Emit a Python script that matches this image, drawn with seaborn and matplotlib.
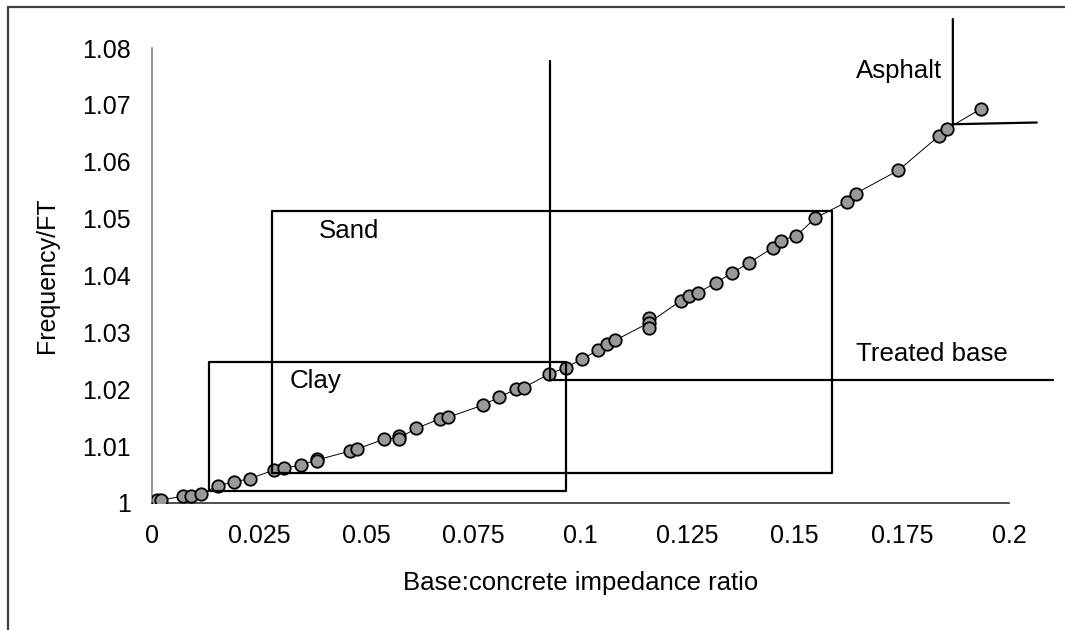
import numpy as np
import pandas as pd
import seaborn as sns
import matplotlib.pyplot as plt
from matplotlib.lines import Line2D
from matplotlib.ticker import FixedLocator, FixedFormatter

sns.set_theme(style="white")
plt.rcParams["font.family"] = ["Liberation Sans", "DejaVu Sans"]

# Measured base:concrete impedance ratio and normalised frequency
ratio = [0.0012, 0.0020, 0.0072, 0.0091, 0.0115, 0.0153, 0.0191, 0.0229,
         0.0285, 0.0308, 0.0347, 0.0384, 0.0384, 0.0461, 0.0479, 0.0541,
         0.0577, 0.0577, 0.0616, 0.0672, 0.0692, 0.0772, 0.0810, 0.0849,
         0.0868, 0.0927, 0.0966, 0.1003, 0.1042, 0.1061, 0.1081, 0.1160,
         0.1160, 0.1160, 0.1235, 0.1254, 0.1274, 0.1316, 0.1354, 0.1393,
         0.1449, 0.1467, 0.1504, 0.1548, 0.1623, 0.1642, 0.1742, 0.1836,
         0.1856, 0.1934]
freq = [1.0005, 1.0005, 1.0012, 1.0012, 1.0016, 1.0030, 1.0037, 1.0043,
        1.0058, 1.0061, 1.0067, 1.0077, 1.0074, 1.0091, 1.0095, 1.0112,
        1.0117, 1.0112, 1.0131, 1.0148, 1.0151, 1.0172, 1.0186, 1.0200,
        1.0203, 1.0227, 1.0238, 1.0253, 1.0269, 1.0279, 1.0286, 1.0326,
        1.0317, 1.0308, 1.0356, 1.0364, 1.0370, 1.0387, 1.0405, 1.0422,
        1.0449, 1.0461, 1.0470, 1.0501, 1.0530, 1.0544, 1.0585, 1.0645,
        1.0658, 1.0693]

# Material ranges: (x_min, x_max, y_min, y_max)
clay_box = (0.0133, 0.0966, 1.0021, 1.0248)
sand_box = (0.0280, 0.1587, 1.0053, 1.0513)

# Treated base boundary: vertical then horizontal
treated_x = [0.0929, 0.0929, 0.2103]
treated_y = [1.0777, 1.0216, 1.0216]

# Asphalt boundary
asphalt_x = [0.1869, 0.1869, 0.2065]
asphalt_y = [1.0851, 1.0666, 1.0669]

labels = ["Sand", "Clay", "Treated base", "Asphalt"]
label_x = [0.0390, 0.0322, 0.1643, 0.1643]
label_y = [1.0466, 1.0202, 1.0250, 1.0747]

x_ticks = [0, 0.025, 0.05, 0.075, 0.1, 0.125, 0.15, 0.175, 0.2]
x_tick_labels = ["0", "0.025", "0.05", "0.075", "0.1", "0.125", "0.15", "0.175", "0.2"]
y_ticks = [1.0, 1.01, 1.02, 1.03, 1.04, 1.05, 1.06, 1.07, 1.08]
y_tick_labels = ["1", "1.01", "1.02", "1.03", "1.04", "1.05", "1.06", "1.07", "1.08"]

df = pd.DataFrame({"ratio": ratio, "freq": freq})

fig = plt.figure(figsize=(10.65, 6.3), dpi=100)
fig.patch.set_facecolor("white")
ax = fig.add_axes([0.1427, 0.2016, 0.8047, 0.7222])
ax.set_facecolor("white")

sns.lineplot(data=df, x="ratio", y="freq", errorbar=None, color="black",
             linewidth=0.7, ax=ax, zorder=2)
sns.scatterplot(data=df, x="ratio", y="freq", s=80, color="#999999",
                edgecolor="black", linewidth=1.3, ax=ax, zorder=3)

line_kw = dict(color="black", linewidth=1.6, zorder=4, clip_on=False)
for (x0, x1, y0, y1) in (clay_box, sand_box):
    ax.plot([x0, x1, x1, x0, x0], [y0, y0, y1, y1, y0], **line_kw)
ax.plot(treated_x, treated_y, **line_kw)
ax.plot(asphalt_x, asphalt_y, **line_kw)

for t, lx, ly in zip(labels, label_x, label_y):
    ax.text(lx, ly, t, fontsize=18.6, ha="left", va="baseline", color="black")

ax.set_xlim(0, 0.2)
ax.set_ylim(1.0, 1.08)
ax.xaxis.set_major_locator(FixedLocator(x_ticks))
ax.xaxis.set_major_formatter(FixedFormatter(x_tick_labels))
ax.yaxis.set_major_locator(FixedLocator(y_ticks))
ax.yaxis.set_major_formatter(FixedFormatter(y_tick_labels))

for side in ("top", "right"):
    ax.spines[side].set_visible(False)
ax.spines["left"].set_color("#808080")
ax.spines["bottom"].set_color("#303030")
ax.spines["left"].set_linewidth(1.2)
ax.spines["bottom"].set_linewidth(1.2)
ax.tick_params(axis="both", direction="out", length=7, width=1.0,
               labelsize=18, colors="black", pad=8)
ax.tick_params(axis="y", color="#808080")
ax.tick_params(axis="x", color="#303030")
ax.grid(False)

ax.set_xlabel("Base:concrete impedance ratio", fontsize=18.5, labelpad=17,
              color="black")
ax.set_ylabel("Frequency/FT", fontsize=18, labelpad=17, color="black")

# Outer frame around the chart
frame_kw = dict(color="#404040", linewidth=1.6, transform=fig.transFigure)
fig.add_artist(Line2D([8 / 1065, 1.0], [1 - 7 / 630, 1 - 7 / 630], **frame_kw))
fig.add_artist(Line2D([8 / 1065, 8 / 1065], [0.0, 1 - 7 / 630], **frame_kw))

fig.savefig("out.png", dpi=100, facecolor="white")
